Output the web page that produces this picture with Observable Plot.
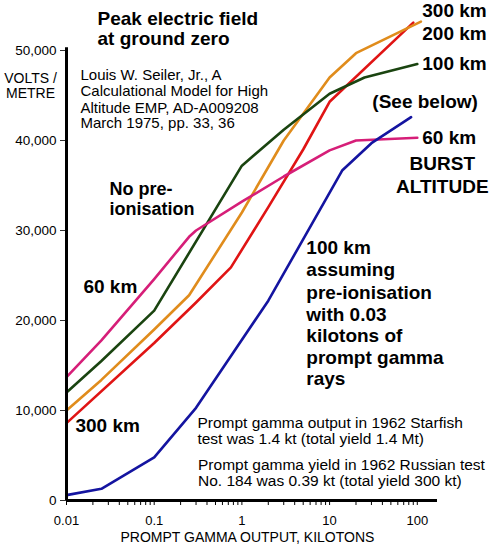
<!DOCTYPE html>
<html><head><meta charset="utf-8">
<script src="https://cdn.jsdelivr.net/npm/d3@7"></script>
<script src="https://cdn.jsdelivr.net/npm/@observablehq/plot@0.6"></script>
<style>
body{margin:0;background:#fff}
#chart{width:500px;height:548px}
</style>
</head><body><div id="chart"></div>
<script>
// ---- data ----
const km300Kt = [0.01, 0.1, 0.3, 0.75, 2, 5, 10, 90];
const km300V  = [8600, 17500, 22000, 25900, 32600, 39000, 44300, 53100];

const km200Kt = [0.01, 0.025, 0.1, 0.25, 1, 3, 10, 20, 110];
const km200V  = [10000, 13400, 19000, 22800, 32000, 40000, 47000, 49700, 53200];

const km100Kt = [0.01, 0.025, 0.1, 1, 3, 10, 25, 100];
const km100V  = [12000, 15500, 21100, 37200, 41200, 45200, 47000, 48500];

const km60Kt  = [0.01, 0.025, 0.1, 0.25, 0.3, 1, 3, 10, 20, 100];
const km60V   = [13700, 17800, 24600, 29300, 30000, 33200, 36000, 38900, 40000, 40300];

const preKt   = [0.01, 0.025, 0.1, 0.3, 2, 14, 30, 85];
const preV    = [600, 1300, 4800, 10300, 22200, 36700, 39700, 42600];

const seriesNames  = ["300 km", "200 km", "100 km", "60 km", "100 km pre-ionised"];
const seriesColors = ["#e01414", "#e08c1c", "#1a4410", "#d61e78", "#1414a0"];

const yTicks = [0, 10000, 20000, 30000, 40000, 50000];
const xMajorTicks = [0.01, 0.1, 1, 10, 100];

// ---- table built from the arrays ----
const seriesList = [
  [seriesNames[0], km300Kt, km300V],
  [seriesNames[1], km200Kt, km200V],
  [seriesNames[2], km100Kt, km100V],
  [seriesNames[3], km60Kt, km60V],
  [seriesNames[4], preKt, preV]
];
const rows = seriesList.flatMap(([name, xs, ys]) => xs.map((k, i) => ({series: name, kt: k, v: ys[i]})));

// ---- annotations (anchored in data coordinates) ----
const titleText = [
  {text: "Peak electric field", kt: 0.0226, v: 52780},
  {text: "at ground zero", kt: 0.0226, v: 50560}
];
const citeText = [
  {text: "Louis W. Seiler, Jr., A", kt: 0.01444, v: 46670},
  {text: "Calculational Model for High", kt: 0.01444, v: 44890},
  {text: "Altitude EMP, AD-A009208", kt: 0.01444, v: 43110},
  {text: "March 1975, pp. 33, 36", kt: 0.01444, v: 41390}
];
const yTitle = [
  {text: "VOLTS /", kt: 0.00389, v: 46440},
  {text: "METRE", kt: 0.00389, v: 44670}
];
const xTitle = [{text: "PROMPT GAMMA OUTPUT, KILOTONS", kt: 1.156, v: -4560}];
const noPreText = [
  {text: "No pre-", kt: 0.0309, v: 33890},
  {text: "ionisation", kt: 0.0309, v: 31670}
];
const boldLabels = [
  {text: "300 km", kt: 114, v: 53670},
  {text: "200 km", kt: 114, v: 51220},
  {text: "100 km", kt: 114, v: 47780},
  {text: "(See below)", kt: 30.7, v: 43560},
  {text: "60 km", kt: 114, v: 39560},
  {text: "60 km", kt: 0.0156, v: 23110},
  {text: "300 km", kt: 0.01266, v: 7560},
  {text: "100 km", kt: 5.43, v: 27440},
  {text: "assuming", kt: 5.43, v: 25000},
  {text: "pre-ionisation", kt: 5.43, v: 22440},
  {text: "with 0.03", kt: 5.43, v: 20000},
  {text: "kilotons of", kt: 5.43, v: 17560},
  {text: "prompt gamma", kt: 5.43, v: 15220},
  {text: "rays", kt: 5.43, v: 12780}
];
const burstText = [
  {text: "BURST", kt: 192.8, v: 36670},
  {text: "ALTITUDE", kt: 192.8, v: 34220}
];
const noteText = [
  {text: "Prompt gamma output in 1962 Starfish", kt: 0.311, v: 8110},
  {text: "test was 1.4 kt (total yield 1.4 Mt)", kt: 0.311, v: 6330},
  {text: "Prompt gamma yield in 1962 Russian test", kt: 0.316, v: 3440},
  {text: "No. 184 was 0.39 kt (total yield 300 kt)", kt: 0.316, v: 1560}
];

const minorTicks = d3.scaleLog().domain([0.01, 100]).ticks();
const isDecade = d => Math.abs(Math.log10(d) - Math.round(Math.log10(d))) < 1e-9;

const chart = Plot.plot({
  width: 500,
  height: 548,
  marginLeft: 66,
  marginRight: 63,
  marginTop: 50,
  marginBottom: 48,
  style: {fontFamily: "'Liberation Sans', Arial, sans-serif", background: "#fff", color: "#000", overflow: "visible"},
  x: {type: "log", domain: [0.01, 170]},
  y: {domain: [0, 50000]},
  color: {domain: seriesNames, range: seriesColors},
  marks: [
    Plot.axisY(yTicks, {tickSize: 6, tickPadding: 4, fontSize: 13.5, tickFormat: d3.format(","), label: null, stroke: "#333"}),
    Plot.axisX(minorTicks, {tickSize: 5, tickPadding: 10, fontSize: 13, label: null,
      tickFormat: d => isDecade(d) ? d3.format("~g")(d) : ""}),
    Plot.line(rows, {x: "kt", y: "v", z: "series", stroke: "series", strokeWidth: 2.6, strokeLinejoin: "round"}),
    Plot.ruleY([0], {stroke: "#000", strokeWidth: 3}),
    Plot.ruleX([0.01], {y1: 0, y2: 50300, stroke: "#000", strokeWidth: 3}),
    Plot.text(titleText, {x: "kt", y: "v", text: "text", textAnchor: "start", lineAnchor: "bottom", fontSize: 19, fontWeight: "bold", fill: "#000"}),
    Plot.text(citeText, {x: "kt", y: "v", text: "text", textAnchor: "start", lineAnchor: "bottom", fontSize: 15, fill: "#000"}),
    Plot.text(yTitle, {x: "kt", y: "v", text: "text", textAnchor: "middle", lineAnchor: "bottom", fontSize: 14, fill: "#000"}),
    Plot.text(xTitle, {x: "kt", y: "v", text: "text", textAnchor: "middle", lineAnchor: "bottom", fontSize: 14, fill: "#000"}),
    Plot.text(noPreText, {x: "kt", y: "v", text: "text", textAnchor: "start", lineAnchor: "bottom", fontSize: 18, fontWeight: "bold", fill: "#000"}),
    Plot.text(boldLabels, {x: "kt", y: "v", text: "text", textAnchor: "start", lineAnchor: "bottom", fontSize: 19, fontWeight: "bold", fill: "#000"}),
    Plot.text(burstText, {x: "kt", y: "v", text: "text", textAnchor: "middle", lineAnchor: "bottom", fontSize: 19, fontWeight: "bold", fill: "#000"}),
    Plot.text(noteText, {x: "kt", y: "v", text: "text", textAnchor: "start", lineAnchor: "bottom", fontSize: 15.5, fill: "#000"})
  ]
});
document.getElementById("chart").appendChild(chart);
</script>
</body></html>
